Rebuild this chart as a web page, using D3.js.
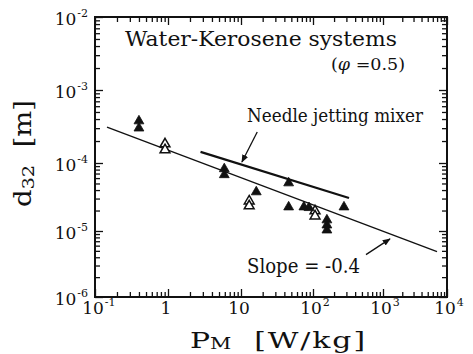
<!DOCTYPE html>
<html><head><meta charset="utf-8">
<script src="https://cdn.jsdelivr.net/npm/d3@7"></script>
<style>body{margin:0;background:#fff} svg{display:block}</style>
</head><body>
<svg id="c" width="473" height="354"></svg>
<script>
// ---- data ----
const xDecades = [0.1, 1, 10, 100, 1000, 10000];
const yDecades = [1e-2, 1e-3, 1e-4, 1e-5, 1e-6];
const xTickBase = ["10", "1", "10", "10", "10", "10"];
const xTickExp  = ["-1", "", "", "2", "3", "4"];
const yTickBase = ["10", "10", "10", "10", "10"];
const yTickExp  = ["-2", "-3", "-4", "-5", "-6"];

const filledP = [0.40, 0.40, 5.9, 5.9, 16.3, 45.9, 45.9, 74.7, 87.9, 158, 158, 158, 277];
const filledD = [3.76e-4, 3.0e-4, 8.2e-5, 6.7e-5, 3.75e-5, 5.08e-5, 2.25e-5, 2.25e-5, 2.2e-5, 1.45e-5, 1.22e-5, 1.03e-5, 2.25e-5];
const openP = [0.91, 0.91, 13, 13, 107, 107];
const openD = [1.82e-4, 1.51e-4, 2.75e-5, 2.33e-5, 1.97e-5, 1.66e-5];

const corrLineP = [0.146, 6980];
const corrLineD = [3.11e-4, 4.86e-6];
const needleLineP = [2.79, 327];
const needleLineD = [1.42e-4, 3.06e-5];

const needleArrowP = [16.8, 10.3];
const needleArrowD = [2.66e-4, 1.03e-4];
const slopeArrowP = [571, 1286];
const slopeArrowD = [4.38e-6, 7.6e-6];

// ---- layout ----
const FONT = "DejaVu Serif";
const svg = d3.select("#c");
const L = 95, R = 447, T = 17, B = 297;
// scanned figure: decades are not exactly evenly spaced
const x = d3.scaleLog().domain(xDecades).range([L, 168, 241, 313, 383, R]);
const y = d3.scaleLog().domain(yDecades).range([T, 90, 163, 231, B]);

const xMinor = [], yMinor = [];
xDecades.slice(0, -1).forEach(d => { for (let m = 2; m <= 9; m++) xMinor.push(d * m); });
yDecades.slice(1).forEach(d => { for (let m = 2; m <= 9; m++) yMinor.push(d * m); });

function axisG(axis, tx, ty) {
  const g = svg.append("g").attr("transform", `translate(${tx},${ty})`).call(axis);
  g.select(".domain").remove();
  g.selectAll(".tick line").attr("stroke", "#111").attr("stroke-width", 1.3);
  g.selectAll("text").remove();
  return g;
}
const MAJ = 8, MIN = 5;
axisG(d3.axisBottom(x).tickValues(xDecades).tickSize(-MAJ), 0, B);
axisG(d3.axisBottom(x).tickValues(xMinor).tickSize(-MIN), 0, B);
axisG(d3.axisTop(x).tickValues(xDecades).tickSize(-MAJ), 0, T);
axisG(d3.axisTop(x).tickValues(xMinor).tickSize(-MIN), 0, T);
axisG(d3.axisLeft(y).tickValues(yDecades).tickSize(-MAJ), L, 0);
axisG(d3.axisLeft(y).tickValues(yMinor).tickSize(-MIN), L, 0);
axisG(d3.axisRight(y).tickValues(yDecades).tickSize(-MAJ), R, 0);
axisG(d3.axisRight(y).tickValues(yMinor).tickSize(-MIN), R, 0);

svg.append("rect").attr("x", L).attr("y", T).attr("width", R - L).attr("height", B - T)
  .attr("fill", "none").attr("stroke", "#111").attr("stroke-width", 2);

// tick labels
xDecades.forEach((v, i) => {
  const t = svg.append("text").attr("font-family", FONT).attr("font-size", 17).attr("fill", "#111")
    .attr("y", 314);
  const b = t.append("tspan").text(xTickBase[i]);
  const w = b.node().getComputedTextLength();
  t.attr("x", x(v) - 2 - w / 2);
  if (xTickExp[i]) t.append("tspan").attr("font-size", 11).attr("dy", -8).attr("dx", 1).text(xTickExp[i]);
});
yDecades.forEach((v, i) => {
  const t = svg.append("text").attr("font-family", FONT).attr("font-size", 17).attr("fill", "#111")
    .attr("text-anchor", "end").attr("x", 88).attr("y", y(v) + 8);
  t.append("tspan").text(yTickBase[i]);
  t.append("tspan").attr("font-size", 11).attr("dy", -8).attr("dx", 1).text(yTickExp[i]);
});

// axis titles
const xt = svg.append("text").attr("font-family", FONT).attr("font-size", 23).attr("fill", "#111")
  .attr("x", 190).attr("y", 348).attr("textLength", 177).attr("lengthAdjust", "spacingAndGlyphs");
xt.append("tspan").text("P");
xt.append("tspan").attr("font-size", 16).attr("dy", 1).text("M");
xt.append("tspan").attr("dy", -1).attr("letter-spacing", 1.5).text("\u00a0\u00a0[W/kg]");

const yt = svg.append("text").attr("font-family", FONT).attr("font-size", 24).attr("fill", "#111")
  .attr("transform", "translate(31,207) rotate(-90)").attr("textLength", 107).attr("lengthAdjust", "spacingAndGlyphs");
yt.append("tspan").text("d");
yt.append("tspan").attr("font-size", 17).attr("dy", 3).text("32");
yt.append("tspan").attr("dy", -3).text("\u00a0\u00a0[m]");

// correlation lines
svg.append("line")
  .attr("x1", x(corrLineP[0])).attr("y1", y(corrLineD[0]))
  .attr("x2", x(corrLineP[1])).attr("y2", y(corrLineD[1]))
  .attr("stroke", "#111").attr("stroke-width", 1.3);
svg.append("line")
  .attr("x1", x(needleLineP[0])).attr("y1", y(needleLineD[0]))
  .attr("x2", x(needleLineP[1])).attr("y2", y(needleLineD[1]))
  .attr("stroke", "#111").attr("stroke-width", 2.2);

// arrows
svg.append("defs").append("marker").attr("id", "ah").attr("viewBox", "0 0 10 10")
  .attr("refX", 9).attr("refY", 5).attr("markerWidth", 8).attr("markerHeight", 8)
  .attr("markerUnits", "userSpaceOnUse").attr("orient", "auto")
  .append("path").attr("d", "M0,1 L10,5 L0,9 Z").attr("fill", "#111");
[[needleArrowP, needleArrowD], [slopeArrowP, slopeArrowD]].forEach(([p, d]) => {
  svg.append("line").attr("x1", x(p[0])).attr("y1", y(d[0])).attr("x2", x(p[1])).attr("y2", y(d[1]))
    .attr("stroke", "#111").attr("stroke-width", 1.3).attr("marker-end", "url(#ah)");
});

// points
const tri = d3.symbol(d3.symbolTriangle, 42);
svg.append("g").selectAll("path").data(openP.map((p, i) => [p, openD[i]])).join("path")
  .attr("d", tri).attr("transform", d => `translate(${x(d[0])},${y(d[1])})`)
  .attr("fill", "#fff").attr("stroke", "#111").attr("stroke-width", 1.5);
svg.append("g").selectAll("path").data(filledP.map((p, i) => [p, filledD[i]])).join("path")
  .attr("d", tri).attr("transform", d => `translate(${x(d[0])},${y(d[1])})`)
  .attr("fill", "#111").attr("stroke", "#111").attr("stroke-width", 0.8);

// annotations
svg.append("text").attr("font-family", FONT).attr("font-size", 20).attr("fill", "#111")
  .attr("x", 125).attr("y", 46).attr("textLength", 272).attr("lengthAdjust", "spacingAndGlyphs")
  .text("Water-Kerosene  systems");
const ph = svg.append("text").attr("font-family", FONT).attr("font-size", 16).attr("fill", "#111")
  .attr("x", 331).attr("y", 70).attr("textLength", 74).attr("lengthAdjust", "spacingAndGlyphs");
ph.append("tspan").text("(");
ph.append("tspan").attr("font-style", "italic").text("\u03c6");
ph.append("tspan").text(" =0.5)");
svg.append("text").attr("font-family", FONT).attr("font-size", 19).attr("fill", "#111")
  .attr("x", 247).attr("y", 122).attr("textLength", 176).attr("lengthAdjust", "spacingAndGlyphs")
  .text("Needle jetting mixer");
svg.append("text").attr("font-family", FONT).attr("font-size", 20).attr("fill", "#111")
  .attr("x", 247).attr("y", 273).attr("textLength", 113).attr("lengthAdjust", "spacingAndGlyphs")
  .text("Slope = -0.4");
</script>
</body></html>
